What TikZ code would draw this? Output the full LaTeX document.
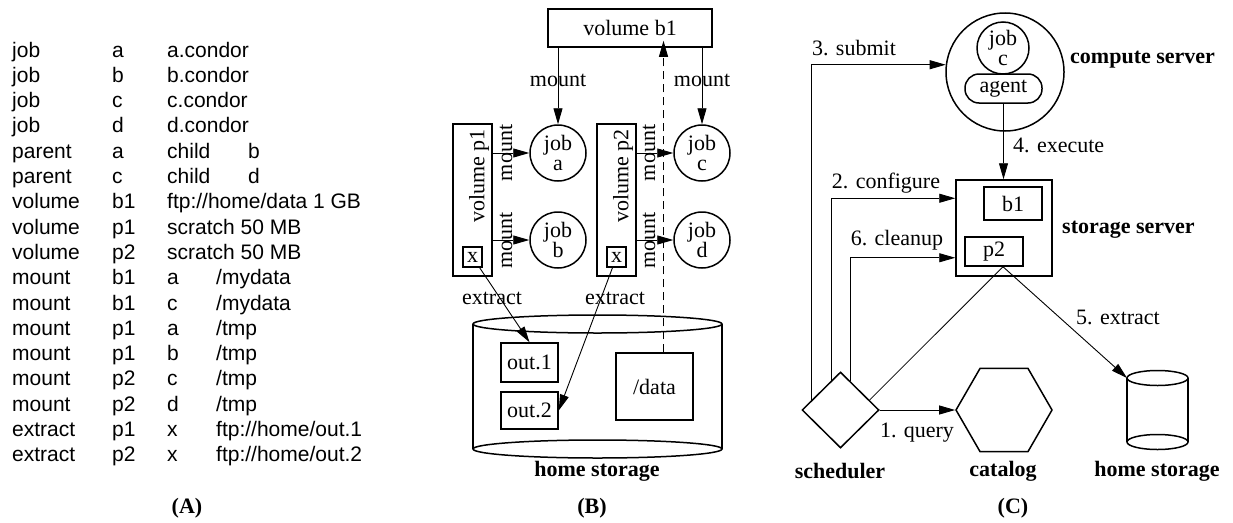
\documentclass[tikz,border=0pt]{standalone}
\usepackage{fontspec}
\setmainfont{Liberation Serif}
\newfontfamily\sansA{Liberation Sans}
\usetikzlibrary{arrows.meta,shapes.geometric,calc}
\newcommand{\rowA}[4]{\makebox[100pt][l]{#1}\makebox[55pt][l]{#2}\makebox[#4][l]{#3}}
\begin{document}
\begin{tikzpicture}[x=1pt,y=-1pt,
  every node/.style={font=\fontsize{22}{19}\selectfont, inner sep=0pt},
  tab/.style={font=\sansA\fontsize{21}{21}\selectfont, anchor=base west},
  brd/.style={draw, line width=1.5pt},
  rbox/.style={brd, rectangle},
  jobnode/.style={brd, circle, minimum size=56, align=center, font=\fontsize{22}{20}\selectfont},
  conn/.style={line width=0.9pt, -{Triangle[length=16pt,width=9pt]}},
  thinline/.style={line width=0.8pt},
  boldlbl/.style={font=\bfseries\fontsize{22}{22}\selectfont},
  ghost/.style={minimum width=#1, outer sep=0pt},
]
\path[use as bounding box] (0,0) rectangle (1233,522);

% ---------------- Panel A ----------------
\node[tab] (r0)  at (12,57)    {\rowA{job}{a}{a.condor}{49pt}};
\node[tab] (r1)  at (12,82.3)  {\rowA{job}{b}{b.condor}{49pt}};
\node[tab] (r2)  at (12,107.6) {\rowA{job}{c}{c.condor}{49pt}};
\node[tab] (r3)  at (12,132.9) {\rowA{job}{d}{d.condor}{49pt}};
\node[tab] (r4)  at (12,158.2) {\rowA{parent}{a}{child}{81pt}b};
\node[tab] (r5)  at (12,183.5) {\rowA{parent}{c}{child}{81pt}d};
\node[tab] (r6)  at (12,208.8) {\rowA{volume}{b1}{ftp://home/data 1 GB}{49pt}};
\node[tab] (r7)  at (12,234.1) {\rowA{volume}{p1}{scratch 50 MB}{49pt}};
\node[tab] (r8)  at (12,259.4) {\rowA{volume}{p2}{scratch 50 MB}{49pt}};
\node[tab] (r9)  at (12,284.7) {\rowA{mount}{b1}{a}{49pt}/mydata};
\node[tab] (r10) at (12,310.0) {\rowA{mount}{b1}{c}{49pt}/mydata};
\node[tab] (r11) at (12,335.3) {\rowA{mount}{p1}{a}{49pt}/tmp};
\node[tab] (r12) at (12,360.6) {\rowA{mount}{p1}{b}{49pt}/tmp};
\node[tab] (r13) at (12,385.9) {\rowA{mount}{p2}{c}{49pt}/tmp};
\node[tab] (r14) at (12,411.2) {\rowA{mount}{p2}{d}{49pt}/tmp};
\node[tab] (r15) at (12,436.5) {\rowA{extract}{p1}{x}{49pt}ftp://home/out.1};
\node[tab] (r16) at (12,461.8) {\rowA{extract}{p2}{x}{49pt}ftp://home/out.2};
\node[boldlbl] (capA) at (187,508) {(A)};

% ---------------- Panel B ----------------
\node[rbox, minimum width=164, minimum height=38] (b1) at (630,28) {volume b1};
\node[jobnode] (ja) at (558,153) {job\\a};
\node[jobnode] (jb) at (558,240) {job\\b};
\node[jobnode] (jc) at (702,153) {job\\c};
\node[jobnode] (jd) at (702,240) {job\\d};
\node[rbox, minimum width=39, minimum height=152] (p1) at (472.5,200) {};
\node[rbox, minimum width=39, minimum height=152] (p2) at (616.5,200) {};
\node[rotate=90] (p1l) at (479,176) {volume p1};
\node[rotate=90] (p2l) at (623,176) {volume p2};
\node[rbox, minimum width=19, minimum height=20] (x1) at (472.5,257) {x};
\node[rbox, minimum width=19, minimum height=20] (x2) at (616.5,257) {x};

\draw[conn] (p1.east |- ja) -- (ja);
\draw[conn] (p1.east |- jb) -- (jb);
\draw[conn] (p2.east |- jc) -- (jc);
\draw[conn] (p2.east |- jd) -- (jd);
\node[rotate=90] (m1) at (506,153) {mount};
\node[rotate=90] (m2) at (506,240) {mount};
\node[rotate=90] (m3) at (649,153) {mount};
\node[rotate=90] (m4) at (649,240) {mount};

\draw[conn] (b1.south -| ja) -- (ja);
\draw[conn] (b1.south -| jc) -- (jc);
\node (m5) at (558,80) {mount};
\node (m6) at (702,80) {mount};

\node[ghost=249, minimum height=125] (homeB) at (597.5,386.5) {};
\draw[brd] (homeB.north west) -- (homeB.south west) (homeB.north east) -- (homeB.south east);
\draw[brd] (homeB.north) ellipse [x radius=124.5pt, y radius=9pt];
\draw[brd] (homeB.south) ellipse [x radius=124.5pt, y radius=9pt];
\node[boldlbl] (homeBl) at (597,471) {home storage};

\node[rbox, minimum width=57, minimum height=39] (out1) at (529.5,362.5) {out.1};
\node[rbox, minimum width=57, minimum height=37] (out2) at (529.5,410.5) {out.2};
\node[rbox, minimum width=77, minimum height=67] (data) at (654.5,386.5) {/data};

\draw[thinline, dash pattern=on 8pt off 5pt, shorten >=-7pt, -{Triangle[length=16pt,width=9pt]}]
  ([xshift=9pt]data.north) -- ([xshift=9pt]data.north |- b1.south);

\draw[conn] (x1) -- (out1.north);
\draw[conn] (x2) -- (out2.east);
\node (e1) at (492,298) {extract};
\node (e2) at (615,298) {extract};
\node[boldlbl] (capB) at (592,508) {(B)};

% ---------------- Panel C ----------------
\node[brd, circle, minimum size=118] (comp) at (1005,72) {};
\node[jobnode, minimum size=52] (jc2) at (1003,48) {job\\c};
\node[brd, rounded corners=14pt, minimum width=77, minimum height=29] (agent) at (1003.5,88.5) {agent};
\node[boldlbl, anchor=west] (compl) at (1070,60) {compute server};

\node[rbox, minimum width=96, minimum height=96] (stor) at (1004,228) {};
\node[rbox, minimum width=58, minimum height=33] (sb1) at (1013,203.5) {b1};
\node[rbox, minimum width=58, minimum height=29] (sp2) at (994,251.5) {p2};
\node[boldlbl, anchor=west] (storl) at (1062,230) {storage server};

\node[brd, diamond, minimum width=77, minimum height=76] (sched) at (840.5,410) {};
\node[brd, regular polygon, regular polygon sides=6, minimum size=96] (cat) at (1004,410) {};
\node[ghost=61, minimum height=64] (homeC) at (1157.5,410) {};
\draw[brd] (homeC.north west) -- (homeC.south west) (homeC.north east) -- (homeC.south east);
\draw[brd] (homeC.north) ellipse [x radius=30.5pt, y radius=7.5pt];
\draw[brd] (homeC.south) ellipse [x radius=30.5pt, y radius=7.5pt];

\node[boldlbl] (schedl) at (840,471) {scheduler};
\node[boldlbl] (catl) at (1003,471) {catalog};
\node[boldlbl] (homeCl) at (1157,471) {home storage};

\draw[conn] (sched.160) |- (comp.173);
\draw[conn] (sched.108) |- ([yshift=-19pt]stor.north west);
\draw[conn] (sched.72) |- ([yshift=19pt]stor.south west);
\draw[conn] (agent.south) -- (agent.south |- stor.north);
\draw[thinline] (sched.19) -- ([xshift=9pt]sp2.south);
\draw[conn] ([xshift=9pt]sp2.south) -- (homeC.north west);
\draw[conn] (sched.east) -- (cat.west);

\node (l3) at (854,48) {3. submit};
\node (l2) at (886,183) {2. configure};
\node (l6) at (897,240) {6. cleanup};
\node[anchor=west] (l4) at (1013,145) {4. execute};
\node (l5) at (1118,317) {5. extract};
\node (l1) at (917,433) {1. query};
\node[boldlbl] (capC) at (1013,508) {(C)};
\end{tikzpicture}
\end{document}
